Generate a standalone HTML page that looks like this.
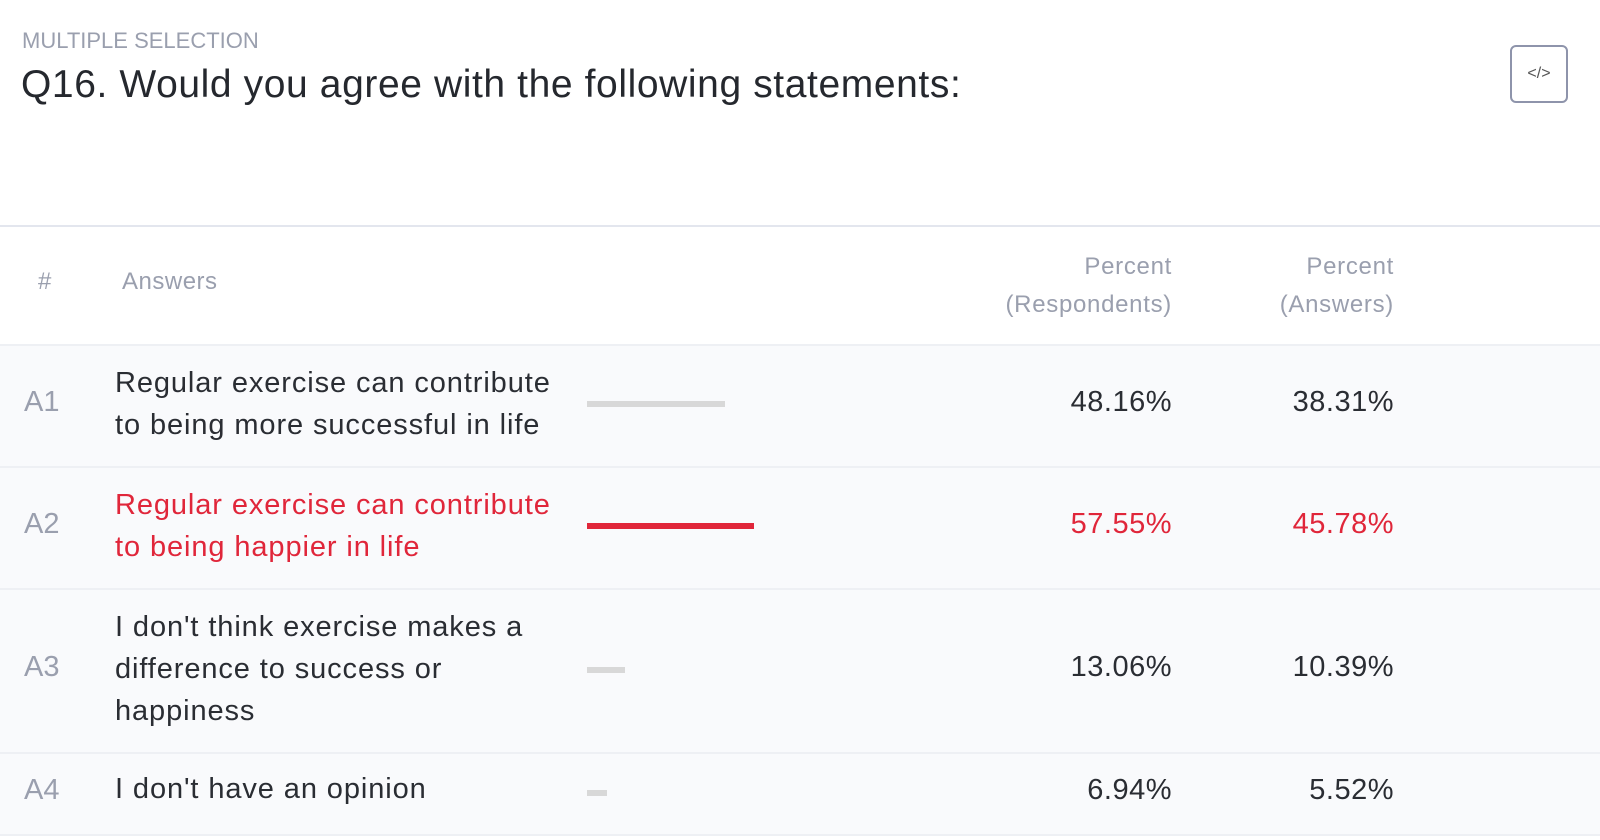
<!DOCTYPE html>
<html><head><style>
body{margin:0;width:1600px;height:840px;background:#fff;font-family:"Liberation Sans",sans-serif;position:relative;overflow:hidden}
.a{position:absolute;white-space:nowrap}
.row{position:absolute;left:0;width:1600px;background:#f9fafc;border-bottom:2px solid #eef0f4;box-sizing:border-box}
.num{position:absolute;left:24px;font-size:29px;color:#9a9fae}
.txt{position:absolute;left:115px;font-size:29px;color:#2a2d33;line-height:42px;letter-spacing:0.9px;white-space:nowrap}
.bar{position:absolute;left:587px;height:6px;background:#d8d8d8}
.p1,.p2{position:absolute;font-size:29px;color:#2a2d33;text-align:right;letter-spacing:0.5px}
.p1{right:428px}.p2{right:206px}
.red{color:#e0263a!important}
</style></head><body>
<div class="a" style="left:22px;top:28px;font-size:22px;color:#9a9fae">MULTIPLE SELECTION</div>
<div class="a" style="left:21px;top:63px;font-size:39px;color:#25282e;letter-spacing:0.6px">Q16. Would you agree with the following statements:</div>
<div class="a" style="left:1510px;top:45px;width:58px;height:58px;border:2px solid #8e94ab;border-radius:6px;box-sizing:border-box;text-align:center;line-height:54px;font-size:16px;color:#555">&lt;/&gt;</div>
<div class="a" style="left:0;top:225px;width:1600px;height:2px;background:#e3e6ee"></div>
<div class="a" style="left:38px;top:268px;font-size:24px;color:#9a9fae">#</div>
<div class="a" style="left:122px;top:268px;font-size:24px;color:#9a9fae;letter-spacing:0.5px">Answers</div>
<div class="a" style="right:428px;top:248px;font-size:24px;color:#9a9fae;text-align:right;line-height:38px;letter-spacing:0.7px">Percent<br>(Respondents)</div>
<div class="a" style="right:206px;top:248px;font-size:24px;color:#9a9fae;text-align:right;line-height:38px;letter-spacing:0.7px">Percent<br>(Answers)</div>
<div class="row" style="top:344px;height:124px;border-top:2px solid #eef0f4">
 <div class="num" style="top:40px">A1</div>
 <div class="txt" style="top:16px">Regular exercise can contribute<br>to being more successful in life</div>
 <div class="bar" style="top:55px;width:138px"></div>
 <div class="p1" style="top:40px">48.16%</div><div class="p2" style="top:40px">38.31%</div>
</div>
<div class="row" style="top:468px;height:122px">
 <div class="num" style="top:40px">A2</div>
 <div class="txt red" style="top:16px">Regular exercise can contribute<br>to being happier in life</div>
 <div class="bar" style="top:55px;width:167px;background:#e0263a"></div>
 <div class="p1 red" style="top:40px">57.55%</div><div class="p2 red" style="top:40px">45.78%</div>
</div>
<div class="row" style="top:590px;height:164px">
 <div class="num" style="top:61px">A3</div>
 <div class="txt" style="top:16px">I don't think exercise makes a<br>difference to success or<br>happiness</div>
 <div class="bar" style="top:77px;width:38px"></div>
 <div class="p1" style="top:61px">13.06%</div><div class="p2" style="top:61px">10.39%</div>
</div>
<div class="row" style="top:754px;height:82px">
 <div class="num" style="top:20px">A4</div>
 <div class="txt" style="top:14px">I don't have an opinion</div>
 <div class="bar" style="top:36px;width:20px"></div>
 <div class="p1" style="top:20px">6.94%</div><div class="p2" style="top:20px">5.52%</div>
</div>
</body></html>
